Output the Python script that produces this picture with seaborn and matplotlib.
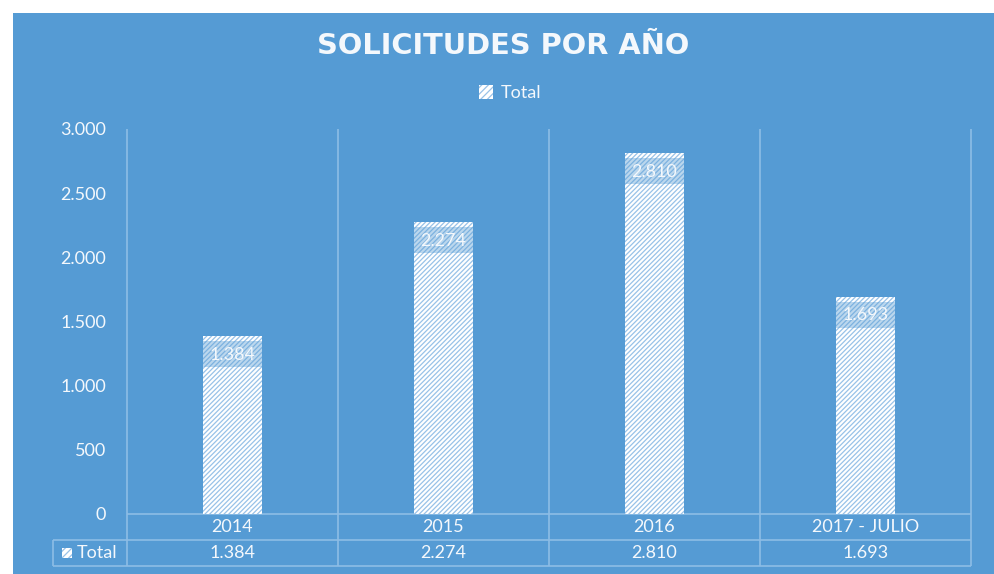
import matplotlib
matplotlib.use("Agg")
import matplotlib.pyplot as plt
from matplotlib.patches import Patch, Rectangle
import seaborn as sns

# datos
years  = ["2014", "2015", "2016", "2017 - JULIO"]
totals = [1384, 2274, 2810, 1693]
series = "Total"
title  = "SOLICITUDES POR AÑO"
yticks = [0, 500, 1000, 1500, 2000, 2500, 3000]

BG     = "#559bd4"
TXT    = "#f4f8fc"
LINE   = "#8dbde6"
HATCH  = "#98c2e8"
W, H   = 994, 574


def fmt(v):
    return f"{v:,.0f}".replace(",", ".")


sns.set_style("white")
plt.rcParams["font.family"] = ["Lato", "DejaVu Sans"]
plt.rcParams["hatch.linewidth"] = 0.9

fig = plt.figure(figsize=(W / 100, H / 100), dpi=100, facecolor="white")
fig.patches.append(Rectangle((13 / W, 0), 1, 1 - 13 / H, transform=fig.transFigure,
                             facecolor=BG, edgecolor="none", zorder=-10))

ax = fig.add_axes([127 / W, 1 - 514 / H, (971 - 127) / W, 385 / H])
ax.set_facecolor("none")

sns.barplot(x=years, y=totals, color="white", saturation=1, width=0.28, ax=ax, zorder=3)
for p in ax.patches:
    p.set_hatch("///////")
    p.set_edgecolor(HATCH)
    p.set_linewidth(0)

ax.set_xlim(-0.5, 3.5)
ax.set_ylim(0, 3000)
ax.set_yticks(yticks)
ax.set_yticklabels([fmt(v) for v in yticks], color=TXT, fontsize=13)
ax.set_xticks([])
ax.tick_params(axis="y", length=0, pad=15)
ax.set_xlabel("")
ax.set_ylabel("")
for s in ax.spines.values():
    s.set_visible(False)

# etiquetas de datos (caja del ancho de la barra)
per_px = 3000 / 385
for p, v in zip(ax.patches, totals):
    ax.add_patch(Rectangle((p.get_x(), v - 31 * per_px), p.get_width(), 26 * per_px,
                           facecolor=BG, alpha=0.4, edgecolor="none", zorder=4))
    ax.annotate(fmt(v), xy=(p.get_x() + p.get_width() / 2, v), xytext=(0, -13.5),
                textcoords="offset points", ha="center", va="center",
                fontsize=13, color=TXT, zorder=5)

# rejilla vertical + tabla de datos
xt = ax.get_xaxis_transform()
row = 26 / 385
bnds = [-0.5, 0.5, 1.5, 2.5, 3.5]
ax.vlines(bnds, -2 * row, 1, transform=xt, colors=LINE, lw=1.2, clip_on=False, zorder=1)
ax.hlines([0, -row, -2 * row], [-0.5, -0.85, -0.85], 3.5, transform=xt,
          colors=LINE, lw=1.2, clip_on=False, zorder=1)
ax.vlines([-0.85], -2 * row, -row, transform=xt, colors=LINE, lw=1.2, clip_on=False)

for i, (yr, v) in enumerate(zip(years, totals)):
    ax.text(i, -row / 2, yr, transform=xt, ha="center", va="center",
            fontsize=13, color=TXT)
    ax.text(i, -1.5 * row, fmt(v), transform=xt, ha="center", va="center",
            fontsize=13, color=TXT)

# clave de la fila "Total"
key = Rectangle((62 / W, 1 - 558 / H), 10 / W, 10 / H, transform=fig.transFigure,
                facecolor="white", edgecolor=HATCH, hatch="/////", lw=0)
fig.patches.append(key)
fig.text(77 / W, 1 - 553 / H, series, ha="left", va="center", fontsize=13, color=TXT)

# título y leyenda
fig.text(503.5 / W, 1 - 46 / H, title, ha="center", va="center", fontsize=20.8,
         fontweight="bold", color=TXT, family="DejaVu Sans")
handle = Patch(facecolor="white", edgecolor=HATCH, hatch="/////", lw=0)
fig.legend([handle], [series], loc="center", bbox_to_anchor=(510 / W, 1 - 93 / H),
           frameon=False, handlelength=0.8, handleheight=0.8, handletextpad=0.4,
           labelcolor=TXT, fontsize=13)

fig.savefig("out.png", dpi=100, facecolor=fig.get_facecolor())
